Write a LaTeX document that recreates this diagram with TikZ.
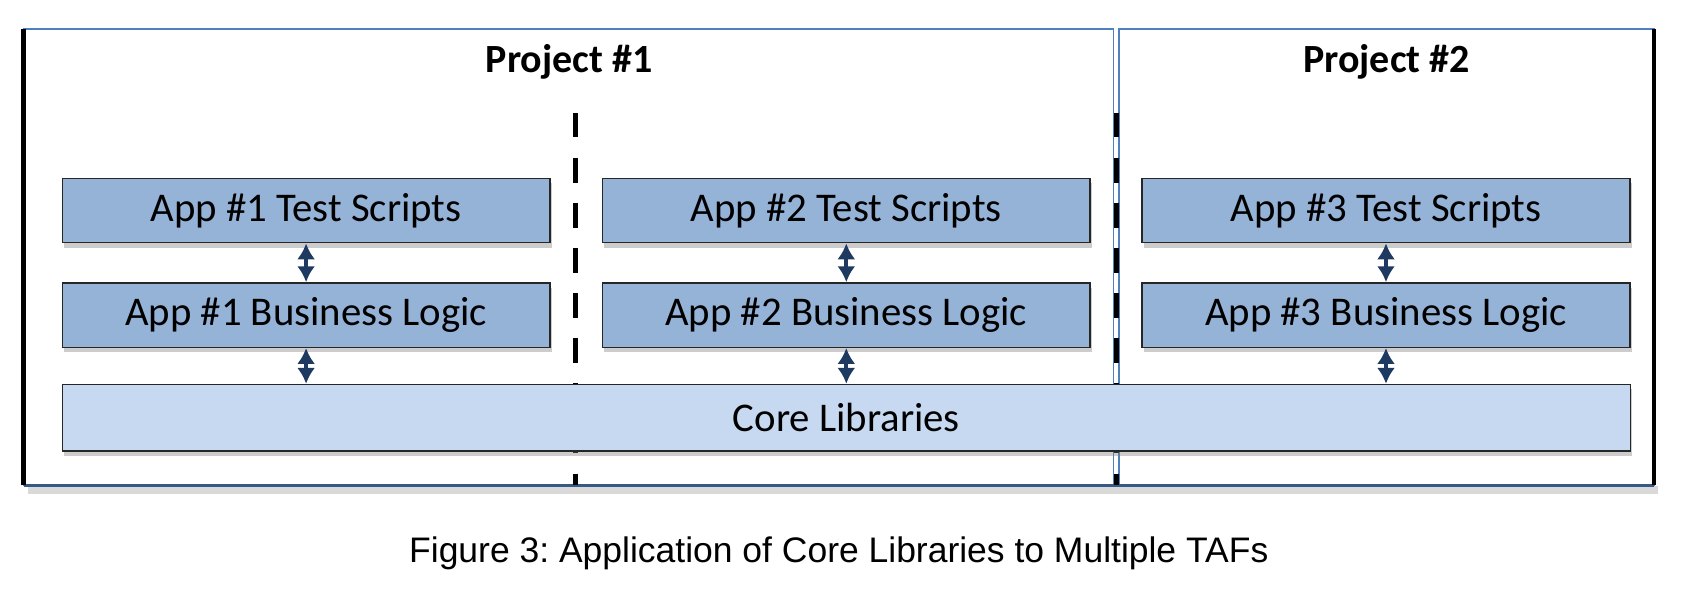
\documentclass[tikz,border=0pt]{standalone}
\usepackage{fontspec}
\setmainfont{Carlito}
\newfontfamily\captionfont{Liberation Sans}
\usepackage{xcolor}
\usepackage{tikz}
\usetikzlibrary{arrows.meta,positioning,shadows}

\definecolor{appblue}{HTML}{95B3D7}
\definecolor{coreblue}{HTML}{C6D9F1}
\definecolor{frameblue}{HTML}{4F81BD}
\definecolor{linknavy}{HTML}{1F3A60}

\tikzset{
    appbox/.style={draw=black!85, fill=appblue, minimum width=4.54cm, minimum height=0.60cm,
        inner sep=0pt, font=\fontsize{10.8}{12}\selectfont,
        drop shadow={shadow xshift=0.5pt, shadow yshift=-1.3pt, opacity=0.4}},
    corebox/.style={appbox, fill=coreblue, minimum width=14.60cm, minimum height=0.62cm},
    link/.style={linknavy, line width=1pt, {Latex[length=4.2pt,width=4.8pt]}-{Latex[length=4.2pt,width=4.8pt]}},
    divider/.style={line width=1.3pt, dash pattern=on 0.23cm off 0.19cm},
}

\begin{document}
\begin{tikzpicture}
    \useasboundingbox (0,0) rectangle (15.68,5.51);

    % Project frames
    \draw[frameblue] (0.22,0.99) rectangle (10.37,5.24);
    \draw[frameblue] (10.42,0.99) rectangle (15.40,5.24);
    \draw[black!15, line width=2pt] (0.26,0.95) -- (15.44,0.95);
    \draw[frameblue!70!black, line width=0.9pt] (0.22,0.99) -- (15.40,0.99);
    \draw[line width=1.3pt] (0.22,0.99) -- (0.22,5.24);
    \draw[line width=1.3pt] (15.40,0.99) -- (15.40,5.24);

    % Titles
    \node[font=\fontsize{10.6}{12}\selectfont\bfseries] (proj1) at (5.30,4.93) {Project \#1};
    \node[font=\fontsize{10.6}{12}\selectfont\bfseries] (proj2) at (12.91,4.93) {Project \#2};

    % Dashed separators
    \draw[divider] (5.36,4.46) -- (5.36,0.99);
    \draw[divider] (10.395,4.46) -- (10.395,0.99);

    % Test scripts and business logic
    \node[appbox] (ts1) at (2.85,3.55) {App \#1 Test Scripts};
    \node[appbox, below=0.36cm of ts1] (bl1) {App \#1 Business Logic};
    \node[appbox] (ts2) at (7.88,3.55) {App \#2 Test Scripts};
    \node[appbox, below=0.36cm of ts2] (bl2) {App \#2 Business Logic};
    \node[appbox] (ts3) at (12.905,3.55) {App \#3 Test Scripts};
    \node[appbox, below=0.36cm of ts3] (bl3) {App \#3 Business Logic};

    % Shared core
    \node[corebox] (core) at (7.88,1.62) {Core Libraries};

    % Links
    \draw[link] (ts1) -- (bl1);
    \draw[link] (ts2) -- (bl2);
    \draw[link] (ts3) -- (bl3);
    \draw[link] (bl1.south) -- (bl1.south |- core.north);
    \draw[link] (bl2.south) -- (bl2.south |- core.north);
    \draw[link] (bl3.south) -- (bl3.south |- core.north);

    % Caption
    \node[font=\captionfont\fontsize{9.4}{11}\selectfont\frenchspacing] (caption) at (7.81,0.36)
        {Figure 3: Application of Core Libraries to Multiple TAFs};
\end{tikzpicture}
\end{document}
